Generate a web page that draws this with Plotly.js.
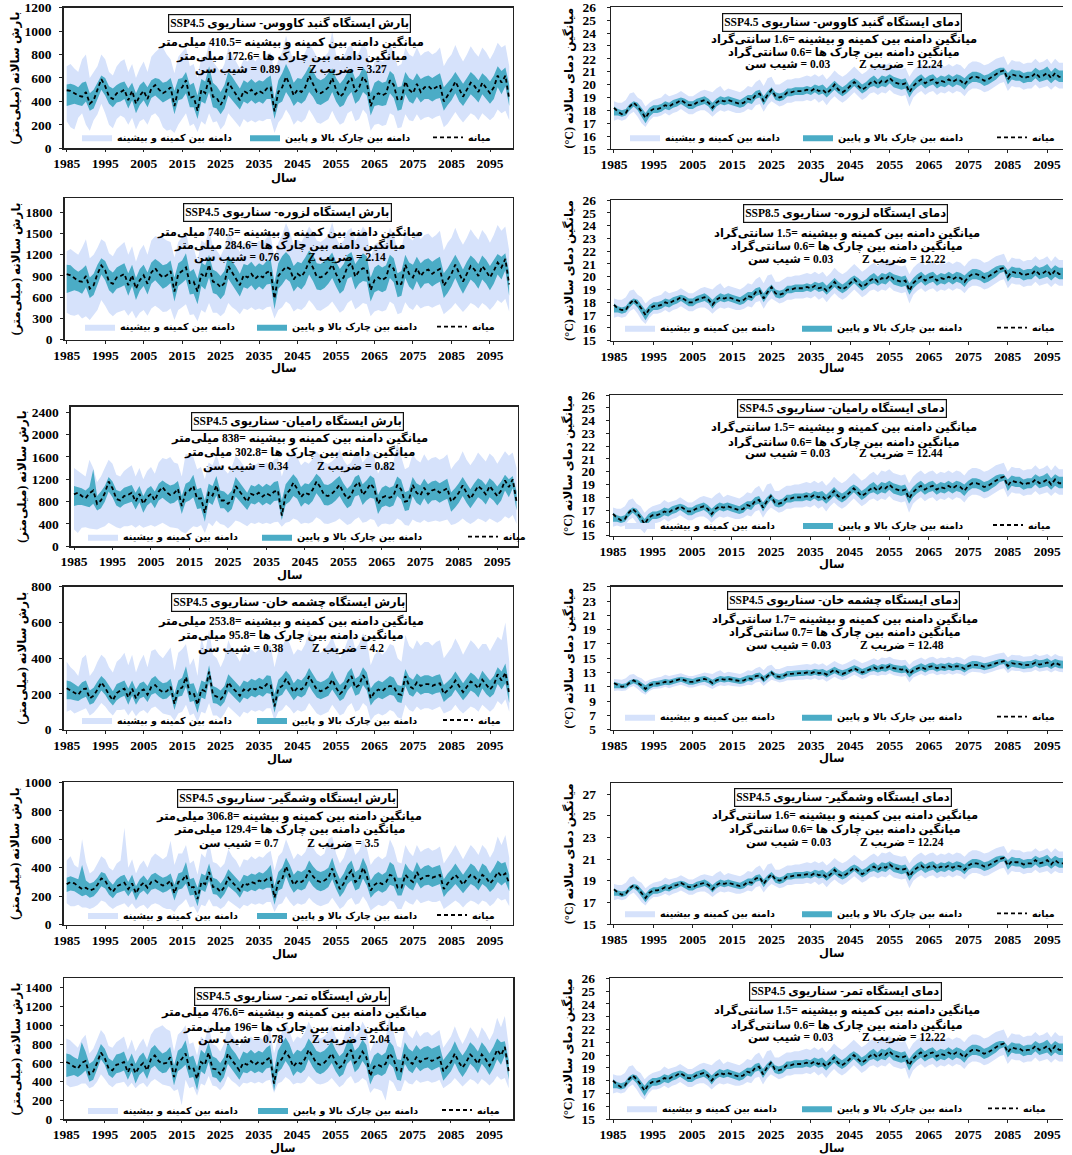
<!DOCTYPE html>
<html><head><meta charset="utf-8">
<script src="https://cdn.plot.ly/plotly-3.0.1.min.js"></script>
<style>html,body{margin:0;padding:0;background:#fff;overflow:hidden}#chart{width:1072px;height:1155px}</style>
</head><body><div id="chart"></div>
<script>
// ---------------- DATA ----------------
const years = [1985,1986,1987,1988,1989,1990,1991,1992,1993,1994,
1995,1996,1997,1998,1999,2000,2001,2002,2003,2004,
2005,2006,2007,2008,2009,2010,2011,2012,2013,2014,
2015,2016,2017,2018,2019,2020,2021,2022,2023,2024,
2025,2026,2027,2028,2029,2030,2031,2032,2033,2034,
2035,2036,2037,2038,2039,2040,2041,2042,2043,2044,
2045,2046,2047,2048,2049,2050,2051,2052,2053,2054,
2055,2056,2057,2058,2059,2060,2061,2062,2063,2064,
2065,2066,2067,2068,2069,2070,2071,2072,2073,2074,
2075,2076,2077,2078,2079,2080,2081,2082,2083,2084,
2085,2086,2087,2088,2089,2090,2091,2092,2093,2094,
2095,2096,2097,2098,2099,2100];
const tickYears = [1985,1995,2005,2015,2025,2035,2045,2055,2065,2075,2085,2095];

// Gonbad-e Kavus precipitation (mm)
const gonbadP_med = [495,490,470,450,440,480,380,410,500,590,
530,440,420,470,480,500,410,490,380,450,
490,420,510,540,500,470,490,520,360,500,
520,580,430,440,320,500,470,600,440,430,
370,430,560,510,460,410,490,470,500,460,
490,470,510,520,315,480,520,610,540,450,
500,480,520,620,550,480,470,490,520,600,
500,440,470,560,600,480,520,610,560,360,
450,470,450,470,580,540,410,420,570,500,
470,550,480,520,530,500,520,540,400,450,
500,570,500,440,500,560,530,480,560,520,
470,520,620,560,620,420];
const gonbadP_q3 = [545,550,540,520,560,570,470,500,560,620,
600,530,510,540,560,570,510,560,470,540,
570,520,580,600,590,560,570,600,490,590,
600,650,540,560,450,590,570,700,560,530,
480,540,650,610,560,510,580,560,590,560,
580,570,600,620,420,580,640,720,650,560,
600,590,640,700,660,600,580,600,640,680,
600,550,590,650,680,590,620,690,650,470,
560,580,560,570,660,630,520,530,650,600,
580,640,590,610,620,600,620,640,520,560,
600,650,600,550,600,650,620,580,640,610,
570,620,700,660,690,540];
const gonbadP_q1 = [360,370,380,370,360,400,320,340,420,500,
450,380,350,390,400,420,340,410,300,370,
410,350,430,450,420,390,410,430,290,410,
420,470,350,350,250,400,380,480,350,340,
290,340,450,410,370,330,400,380,410,380,
400,380,420,420,250,380,400,480,430,360,
400,380,410,480,440,380,370,390,410,480,
400,350,370,440,480,380,410,480,450,280,
360,370,360,370,470,430,320,330,460,400,
380,440,390,420,420,400,420,430,320,370,
410,470,400,360,410,460,430,390,460,420,
380,420,520,460,530,360];
const gonbadP_min = [230,180,160,260,300,200,150,240,290,380,
300,200,170,250,280,260,200,260,160,230,
250,200,280,300,260,180,150,160,130,200,
250,300,190,210,140,230,200,300,220,230,
160,200,300,260,220,180,250,220,240,220,
240,230,250,250,130,220,260,330,280,200,
240,220,250,330,280,220,210,230,250,320,
250,200,220,300,320,230,250,330,290,150,
200,210,190,200,300,280,170,180,290,240,
230,290,240,260,270,250,270,280,180,210,
260,310,260,220,260,300,280,240,300,270,
240,270,330,300,320,240];
const gonbadP_max = [700,720,680,650,760,800,600,650,700,800,
760,650,620,700,740,760,650,720,600,680,
740,650,780,820,850,860,800,760,640,780,
820,860,700,720,600,780,760,900,740,700,
650,720,860,800,740,680,760,740,780,740,
780,750,800,820,640,760,820,960,840,740,
780,760,820,900,840,780,760,780,820,1000,
800,740,780,860,880,780,820,900,840,640,
740,760,740,760,880,820,700,720,860,800,
780,860,790,820,830,800,820,860,700,760,
800,880,800,740,800,870,820,780,860,820,
760,820,900,860,880,700];

// Lazoreh precipitation (mm)
const lazorehP_med = [925,910,870,830,820,900,720,770,930,1050,
980,820,790,880,900,930,770,910,720,840,
910,790,950,1010,930,880,910,970,680,930,
970,1020,800,820,680,930,880,1060,820,800,
740,800,1040,950,860,770,910,880,930,860,
910,880,950,970,580,900,970,1030,1000,850,
930,890,970,1110,1020,890,880,910,970,1060,
930,820,880,1040,1080,890,970,1010,1000,700,
840,880,840,880,1060,1000,770,790,1060,930,
880,1010,900,970,990,930,970,1000,760,840,
930,1060,930,820,930,1040,990,900,1040,970,
880,970,1090,1020,1140,780];
const lazorehP_q3 = [1060,1050,1000,960,1000,1050,880,930,1060,1150,
1110,990,950,1020,1050,1080,940,1060,870,1000,
1060,950,1090,1140,1100,1050,1070,1120,880,1080,
1120,1220,960,1000,860,1090,1050,1200,990,960,
900,970,1190,1110,1030,930,1070,1050,1100,1030,
1080,1050,1110,1140,800,1080,1180,1240,1180,1040,
1100,1080,1160,1260,1200,1080,1070,1110,1160,1230,
1100,1000,1070,1200,1240,1070,1150,1220,1180,880,
1020,1060,1020,1050,1200,1150,940,970,1200,1090,
1060,1170,1080,1130,1150,1100,1140,1170,940,1010,
1100,1200,1100,990,1100,1190,1140,1070,1190,1130,
1040,1130,1210,1170,1220,950];
const lazorehP_q1 = [660,680,700,680,650,740,590,630,770,920,
840,700,650,720,740,770,620,760,560,690,
760,640,790,840,780,720,750,800,540,760,
800,850,640,650,500,760,710,880,660,640,
570,640,860,780,690,610,740,720,770,700,
750,710,780,790,430,720,780,860,820,680,
750,710,780,920,830,710,700,730,790,870,
750,650,700,860,890,710,790,830,820,540,
670,700,670,700,870,810,600,620,870,750,
700,830,720,790,800,750,790,820,590,660,
750,870,750,650,750,850,800,720,850,790,
700,790,920,850,980,620];
const lazorehP_min = [380,350,340,360,300,330,280,350,420,560,
480,380,330,380,400,420,340,410,300,380,
420,340,440,480,440,390,400,440,280,420,
460,500,350,360,260,420,380,520,380,380,
330,380,520,460,420,360,440,420,460,420,
440,420,460,470,300,420,460,540,500,400,
440,420,470,560,500,420,410,440,480,540,
460,380,420,520,560,430,470,520,500,330,
400,420,400,420,540,500,360,380,530,450,
420,500,440,470,480,450,480,500,360,400,
450,520,450,390,450,520,490,440,520,480,
420,480,560,520,580,400];
const lazorehP_max = [1250,1280,1240,1200,1300,1420,1150,1200,1300,1420,
1380,1220,1180,1280,1330,1380,1200,1320,1100,1260,
1340,1200,1400,1460,1450,1440,1400,1380,1160,1380,
1450,1520,1260,1300,1100,1400,1360,1560,1320,1260,
1180,1300,1520,1430,1340,1240,1370,1340,1400,1340,
1400,1360,1440,1480,1150,1370,1480,1650,1520,1340,
1410,1380,1480,1600,1520,1400,1380,1420,1480,1660,
1440,1340,1400,1540,1580,1400,1480,1600,1520,1160,
1340,1380,1340,1370,1580,1480,1260,1300,1540,1440,
1400,1540,1420,1480,1500,1440,1480,1540,1260,1370,
1440,1580,1440,1340,1440,1560,1480,1410,1550,1480,
1370,1480,1620,1540,1600,1260];

// Ramian precipitation (mm)
const ramianP_med = [930,960,900,860,950,1000,760,820,950,1160,
1040,850,820,900,920,960,800,940,760,880,
940,820,980,1060,970,920,950,1030,720,960,
1000,1080,850,860,600,960,910,1090,820,820,
760,830,1080,990,900,800,940,910,960,890,
950,910,980,1000,550,930,1000,1140,1030,880,
960,930,1010,1160,1060,920,900,940,1010,1100,
960,850,910,1080,1150,920,1000,1120,1040,760,
870,900,870,900,1100,1020,800,820,1100,960,
910,1050,930,1000,1020,960,1000,1040,800,870,
960,1090,960,850,960,1080,1020,930,1080,1000,
900,1000,1180,1060,1200,800];
const ramianP_q3 = [1080,1060,1040,1000,1060,1380,900,980,1080,1240,
1160,1010,980,1050,1070,1100,960,1080,900,1030,
1080,980,1120,1180,1130,1090,1110,1170,900,1120,
1160,1280,1020,1050,820,1120,1080,1260,1000,980,
920,1000,1240,1150,1060,960,1100,1070,1120,1060,
1120,1080,1150,1170,820,1110,1200,1290,1210,1060,
1130,1110,1190,1300,1230,1110,1100,1140,1200,1260,
1130,1030,1100,1240,1280,1110,1180,1270,1220,920,
1050,1090,1050,1080,1250,1190,970,1000,1240,1130,
1090,1210,1110,1160,1180,1130,1170,1210,970,1040,
1130,1240,1130,1020,1130,1220,1180,1100,1220,1160,
1070,1160,1280,1200,1260,980];
const ramianP_q1 = [720,740,740,720,700,760,640,680,800,980,
880,730,690,750,770,800,660,790,600,730,
790,680,820,870,810,760,780,840,580,790,
820,880,670,680,440,790,740,910,680,680,
600,670,890,810,730,650,770,750,800,730,
780,740,810,820,470,750,800,900,850,710,
780,740,810,950,860,740,730,760,820,900,
780,680,730,890,920,740,820,870,850,580,
700,730,700,730,900,840,630,650,900,780,
730,860,750,820,830,780,820,850,620,690,
780,900,780,680,780,880,830,750,880,820,
730,820,1000,880,1040,640];
const ramianP_min = [300,240,330,340,320,310,300,330,360,420,
380,340,320,360,360,380,330,380,330,360,
380,350,380,420,380,340,330,320,260,230,
300,360,340,380,240,420,360,460,400,380,
320,380,460,440,400,360,420,400,430,400,
420,400,430,440,350,420,440,500,470,400,
420,410,440,520,480,410,400,420,450,500,
440,380,410,480,520,420,440,490,470,340,
400,410,390,410,500,460,380,370,480,440,
420,470,430,450,460,440,460,480,380,400,
440,500,440,400,440,500,470,430,500,460,
420,460,540,500,560,400];
const ramianP_max = [1400,1350,1300,1250,1550,1400,1150,1250,1400,1550,
1480,1280,1250,1350,1400,1450,1250,1400,1200,1350,
1420,1300,1500,1580,1560,1600,1500,1480,1250,1650,
1650,1600,1380,1420,1200,1500,1450,1650,1420,1380,
1300,1420,1620,1550,1450,1350,1480,1450,1500,1450,
1500,1450,1550,1580,1250,1480,1580,1750,1600,1450,
1520,1480,1560,1700,1620,1500,1480,1520,1580,1750,
1550,1450,1500,1650,1700,1500,1580,1700,1620,1300,
1450,1500,1480,1500,1850,1600,1380,1420,1650,1550,
1500,1650,1530,1580,1600,1550,1580,1650,1380,1480,
1550,1700,1550,1450,1550,1680,1600,1520,1660,1600,
1480,1600,1700,1620,1680,1400];

// Cheshmeh Khan precipitation (mm)
const cheshmehP_med = [232,220,205,195,225,230,175,190,225,265,
235,195,165,205,220,230,180,230,175,215,
225,195,240,250,225,210,215,240,145,225,
235,295,200,205,140,225,215,325,195,185,
170,195,265,235,215,190,225,215,235,225,
240,230,255,250,130,230,245,285,250,210,
235,225,245,300,260,225,215,225,240,280,
235,200,220,270,300,235,250,305,270,175,
210,225,215,235,245,240,200,195,300,245,
230,265,245,255,255,245,255,260,200,220,
240,275,245,210,240,270,255,230,280,250,
225,250,310,275,320,200];
const cheshmehP_q3 = [275,270,255,240,265,275,220,235,270,300,
280,245,215,255,265,275,230,275,225,260,
270,245,285,300,275,260,265,285,200,275,
290,355,255,260,200,275,265,360,245,235,
220,245,310,285,265,240,275,265,285,275,
290,280,305,300,200,280,300,330,305,260,
285,275,300,345,310,275,265,275,290,330,
285,250,270,320,345,285,300,350,320,230,
260,275,265,285,300,290,250,245,340,295,
280,315,295,305,305,295,305,310,250,270,
290,325,295,260,290,320,305,280,330,300,
275,300,350,325,370,250];
const cheshmehP_q1 = [170,170,165,160,175,185,140,150,185,220,
195,160,135,165,180,190,140,190,140,175,
185,155,195,205,185,170,175,195,110,185,
190,240,155,160,95,180,170,270,150,145,
130,155,215,190,170,150,180,170,190,180,
195,185,205,200,95,185,195,230,200,165,
190,180,195,245,210,180,170,180,190,225,
190,160,175,220,245,190,200,250,220,135,
165,180,170,185,195,190,155,150,245,195,
185,215,195,205,205,195,205,210,155,175,
190,225,195,165,190,220,205,180,230,200,
180,200,255,225,260,150];
const cheshmehP_min = [100,110,90,100,110,120,80,95,120,150,
130,100,80,110,110,115,80,110,75,100,
110,90,120,130,110,90,85,80,50,90,
100,140,80,90,40,100,90,150,80,80,
60,90,130,110,90,70,100,90,110,100,
110,100,120,120,50,100,110,140,120,90,
110,100,110,150,120,90,80,90,100,140,
110,80,90,130,150,100,110,150,130,50,
80,90,80,90,110,100,70,60,140,110,
100,130,110,120,120,110,120,130,90,100,
110,140,110,90,110,130,120,100,140,120,
100,120,160,140,170,100];
const cheshmehP_max = [380,350,330,300,400,420,300,330,380,420,
400,350,320,380,400,430,360,420,320,380,
420,350,440,450,420,400,430,460,330,430,
450,480,360,400,300,520,430,560,420,400,
350,400,500,450,420,380,440,420,450,430,
450,440,470,470,350,440,460,520,480,420,
450,440,480,560,500,440,430,450,480,520,
460,400,440,500,540,450,480,540,500,360,
420,440,420,440,480,470,400,380,530,470,
450,500,470,490,490,470,490,500,400,430,
460,510,470,420,460,500,480,450,480,480,
440,480,520,500,600,380];

// Voshmgir precipitation (mm)
const voshmgirP_med = [285,300,290,270,250,260,240,250,280,325,
310,260,230,270,285,295,250,290,220,270,
295,260,300,310,290,275,285,310,220,300,
310,350,260,265,180,300,285,370,265,260,
230,265,330,300,275,240,290,280,300,290,
310,300,320,330,190,300,320,410,340,280,
310,300,320,380,340,310,300,310,330,395,
310,250,290,350,380,300,320,400,340,240,
280,300,285,300,350,340,260,260,350,320,
300,370,320,340,345,330,340,350,250,290,
320,350,320,280,320,350,335,300,350,330,
290,320,370,340,360,290];
const voshmgirP_q3 = [330,340,330,320,420,310,290,300,330,370,
360,310,280,320,340,350,300,350,270,320,
345,310,350,365,345,330,340,360,280,360,
370,440,320,330,260,360,345,430,330,320,
290,330,390,360,335,300,350,340,360,350,
370,360,385,420,270,370,400,470,420,350,
380,370,390,450,410,380,370,380,400,470,
380,320,360,420,450,370,390,470,410,310,
350,370,350,370,440,420,330,330,430,390,
370,440,390,410,420,400,410,420,320,360,
390,430,390,350,390,430,410,370,430,410,
360,400,450,430,440,350];
const voshmgirP_q1 = [230,240,235,220,200,210,190,200,230,270,
255,210,185,220,230,240,200,240,170,220,
240,210,245,255,240,225,235,255,170,245,
255,290,205,210,130,245,230,310,215,210,
180,215,270,245,225,190,240,230,245,235,
255,245,260,260,140,240,255,340,270,225,
250,240,255,310,270,245,235,245,265,320,
250,195,230,285,310,240,255,325,275,190,
220,240,225,240,280,270,205,205,280,255,
240,300,255,275,280,265,275,285,195,230,
255,285,255,220,255,285,270,240,285,265,
230,255,300,275,300,235];
const voshmgirP_min = [150,130,130,140,120,120,110,120,140,170,
160,130,110,130,140,150,120,150,110,130,
140,110,140,150,140,120,110,110,90,130,
150,180,120,130,80,140,130,180,130,130,
110,130,170,150,130,110,140,130,150,140,
150,140,160,160,90,140,150,200,160,130,
150,140,150,190,160,140,130,140,150,190,
150,110,130,170,190,140,150,200,160,100,
120,140,130,140,170,160,110,110,170,150,
140,180,150,160,170,160,160,170,110,130,
150,170,150,120,150,170,160,140,170,160,
130,150,190,170,180,130];
const voshmgirP_max = [450,480,420,400,600,440,360,380,430,480,
460,400,380,430,450,680,400,460,360,420,
450,400,470,500,480,460,480,590,420,500,
500,560,430,450,350,500,470,580,440,430,
400,430,530,480,450,400,460,450,480,460,
480,470,500,520,380,480,510,600,530,460,
500,480,510,580,540,500,480,500,600,620,
500,430,470,550,580,490,520,600,540,420,
460,480,460,480,600,540,440,430,560,510,
480,560,510,530,540,520,530,550,430,470,
510,560,510,460,510,560,530,490,560,530,
470,520,620,560,630,470];

// Tamar precipitation (mm)
const tamarP_med = [610,590,560,540,600,620,480,510,600,710,
650,540,520,580,590,610,500,590,490,560,
600,520,640,680,620,590,600,660,450,610,
640,700,540,550,430,610,580,710,540,530,
480,540,700,630,580,520,600,580,620,580,
610,590,630,660,380,600,640,720,660,560,
610,590,640,740,670,600,580,600,640,700,
610,550,580,690,740,600,640,720,660,460,
560,580,560,590,700,650,520,510,690,620,
590,660,610,640,650,620,640,660,510,560,
610,700,610,550,610,690,650,590,690,640,
570,640,740,680,770,510];
const tamarP_q3 = [700,690,660,640,820,720,590,620,700,800,
750,650,620,690,700,720,610,700,590,670,
710,630,750,790,740,700,720,770,570,730,
760,840,660,680,560,740,700,820,670,650,
600,660,820,750,700,630,720,700,740,700,
730,710,760,790,520,730,800,870,800,690,
740,720,770,860,800,730,710,730,770,830,
740,670,710,820,860,730,770,850,790,580,
680,710,680,710,830,780,640,630,820,750,
720,790,740,770,780,750,770,790,630,690,
740,830,740,680,740,820,780,720,820,770,
700,770,860,820,830,630];
const tamarP_q1 = [450,460,470,450,480,520,400,420,520,640,
580,470,440,490,500,520,420,510,380,470,
510,430,540,570,520,490,500,560,360,510,
540,580,440,450,310,510,480,610,450,440,
390,450,590,530,480,420,500,490,520,490,
510,490,540,550,300,500,540,620,560,460,
510,490,530,640,560,500,480,500,540,600,
510,450,480,590,630,500,540,620,560,370,
460,480,460,490,590,550,420,410,590,520,
490,560,510,540,550,520,540,560,410,460,
510,600,510,450,510,590,550,490,590,540,
470,540,640,580,680,420];
const tamarP_min = [370,340,350,360,380,380,330,350,400,480,
430,370,340,380,390,400,340,390,330,370,
390,340,400,430,400,370,360,350,300,320,
150,420,330,350,250,380,360,460,360,350,
310,360,460,410,380,340,390,380,400,380,
400,380,410,420,280,380,400,450,420,370,
390,380,400,460,420,380,370,380,400,440,
390,340,370,430,460,380,400,440,410,280,
330,320,300,200,420,390,300,300,420,380,
370,420,390,400,410,390,400,420,330,360,
390,440,390,350,390,430,410,370,430,400,
360,400,460,420,440,330];
const tamarP_max = [860,840,800,760,850,900,700,750,850,950,
900,780,760,820,850,880,740,850,720,800,
860,760,900,960,980,1000,960,940,720,900,
940,1000,800,820,680,880,840,1000,800,780,
720,800,980,900,840,760,860,840,880,840,
880,850,900,940,700,860,920,1040,940,820,
880,860,920,1040,960,880,860,880,920,1000,
880,800,850,980,1020,870,920,1040,960,720,
820,850,820,860,1100,940,780,760,980,900,
860,950,880,920,930,890,920,950,760,820,
880,990,880,800,880,980,930,860,980,920,
840,920,1080,980,1100,780];

// Gonbad-e Kavus temperature (°C)
const gonbadT_med = [18.2,17.9,17.7,17.8,18.3,18.6,18.3,17.9,17.4,17.9,
18.1,18.1,18.2,18.4,18.3,18.5,18.6,18.8,18.6,18.4,
18.4,18.6,18.7,18.8,18.6,18.2,18.6,18.8,18.7,18.8,
18.7,18.6,18.5,18.6,18.9,18.8,19.2,19.3,18.7,19.2,
19.6,19.1,19.0,19.1,19.4,19.4,19.5,19.5,19.5,19.6,
19.5,19.7,19.5,19.6,19.3,19.6,20.0,19.6,19.4,19.6,
19.9,20.2,19.9,19.6,19.8,20.1,20.3,20.0,20.3,20.2,
20.5,20.2,20.1,20.0,20.1,19.4,19.9,20.2,20.4,20.1,
20.3,20.4,20.1,20.3,20.2,20.4,20.2,20.4,20.3,20.0,
20.4,20.6,20.6,20.5,20.3,20.4,20.6,20.8,21.0,21.1,
20.4,20.8,20.7,20.7,20.5,20.6,20.6,20.9,20.6,20.7,
20.9,20.5,20.9,20.6,20.6,20.5];
const gonbadT_q3 = [18.3,18.1,18.0,18.1,18.5,18.7,18.6,18.2,17.8,18.2,
18.4,18.4,18.5,18.7,18.6,18.8,18.9,19.0,18.9,18.7,
18.7,18.9,19.0,19.1,18.9,18.6,18.9,19.1,19.0,19.1,
19.0,18.9,18.8,19.0,19.2,19.2,19.5,19.6,19.1,19.5,
19.8,19.4,19.3,19.4,19.7,19.7,19.8,19.8,19.8,19.9,
19.8,20.0,19.9,20.0,19.7,20.0,20.3,20.0,19.8,20.0,
20.3,20.5,20.3,20.0,20.2,20.5,20.7,20.4,20.7,20.6,
20.8,20.6,20.5,20.4,20.5,19.9,20.3,20.6,20.8,20.5,
20.7,20.8,20.5,20.7,20.6,20.8,20.6,20.8,20.7,20.5,
20.8,21.0,21.0,20.9,20.7,20.8,21.0,21.2,21.3,21.3,
20.9,21.2,21.1,21.1,20.9,21.0,21.0,21.3,21.1,21.2,
21.4,21.0,21.3,21.1,21.1,21.0];
const gonbadT_q1 = [17.6,17.6,17.5,17.6,18.0,18.3,18.0,17.5,17.0,17.5,
17.8,17.8,17.9,18.1,18.0,18.2,18.3,18.5,18.3,18.1,
18.1,18.3,18.4,18.5,18.3,17.9,18.3,18.5,18.4,18.5,
18.4,18.3,18.2,18.3,18.6,18.5,18.9,19.0,18.4,18.9,
19.3,18.8,18.7,18.8,19.1,19.1,19.2,19.2,19.2,19.3,
19.2,19.4,19.2,19.3,19.0,19.3,19.6,19.3,19.1,19.3,
19.6,19.9,19.6,19.3,19.5,19.8,19.9,19.7,19.9,19.8,
20.1,19.8,19.7,19.6,19.7,19.0,19.5,19.8,20.0,19.7,
19.9,20.0,19.7,19.9,19.8,20.0,19.8,20.0,19.9,19.6,
20.0,20.2,20.2,20.1,19.9,20.0,20.2,20.4,20.7,20.8,
20.0,20.4,20.3,20.3,20.1,20.2,20.2,20.5,20.2,20.3,
20.4,20.1,20.4,20.2,20.2,20.1];
const gonbadT_min = [17.2,17.3,17.2,17.3,17.7,17.9,17.5,17.0,16.7,17.2,
17.5,17.5,17.6,17.8,17.6,17.8,17.9,18.1,17.9,17.7,
17.7,17.9,18.0,18.0,17.8,17.5,17.8,18.0,17.9,18.0,
17.9,17.8,17.8,17.9,18.1,18.0,18.4,18.5,17.9,18.4,
18.7,18.5,18.3,18.4,18.6,18.6,18.7,18.7,18.7,18.8,
18.7,18.9,18.6,18.8,18.4,18.8,19.1,18.8,18.6,18.8,
19.1,19.4,19.1,18.8,19.0,19.3,19.4,19.2,19.4,19.3,
19.6,19.3,19.2,19.1,19.2,18.3,19.0,19.3,19.5,19.2,
19.4,19.5,19.2,19.4,19.3,19.5,19.3,19.5,19.4,19.1,
19.5,19.7,19.7,19.6,19.4,19.5,19.7,19.9,20.1,20.2,
19.5,19.9,19.8,19.8,19.6,19.7,19.7,20.0,19.7,19.8,
19.9,19.6,19.9,19.7,19.7,19.6];
const gonbadT_max = [18.7,18.6,18.6,18.8,19.3,19.4,19.0,18.8,18.3,18.6,
18.8,18.9,19.0,19.3,19.1,19.2,19.3,19.5,19.3,19.1,
19.1,19.3,19.5,19.6,19.5,19.4,19.7,19.9,19.5,19.7,
19.6,19.5,19.4,19.6,19.9,19.8,20.2,20.4,19.9,20.5,
20.6,20.0,20.0,20.2,20.4,20.4,20.5,20.5,20.6,20.7,
20.6,20.8,20.6,20.8,20.4,20.7,21.1,20.8,20.6,20.8,
21.1,21.4,21.1,20.8,21.0,21.3,21.5,21.2,21.6,21.5,
21.7,21.4,21.3,21.2,21.3,20.6,21.1,21.4,21.6,21.3,
21.5,21.6,21.3,21.5,21.4,21.6,21.4,21.6,21.5,21.2,
21.6,21.8,21.8,21.7,21.5,21.6,21.8,22.0,22.1,22.2,
21.5,21.9,21.8,21.8,21.6,21.7,21.7,22.0,21.7,21.8,
22.0,21.6,22.0,21.7,21.7,21.6];

// Lazoreh temperature (°C)
const lazorehT_med = [17.8,17.5,17.4,17.4,17.9,18.2,17.9,17.5,17.0,17.5,
17.7,17.7,17.8,18.0,17.9,18.1,18.2,18.4,18.2,18.0,
18.0,18.2,18.3,18.4,18.2,17.8,18.2,18.4,18.3,18.4,
18.3,18.2,18.1,18.2,18.5,18.4,18.8,18.9,18.3,18.8,
19.2,18.7,18.6,18.7,19.0,19.0,19.1,19.1,19.1,19.2,
19.1,19.3,19.1,19.2,18.9,19.2,19.6,19.2,19.0,19.2,
19.5,19.8,19.5,19.2,19.4,19.7,19.9,19.6,19.9,19.8,
20.1,19.8,19.7,19.6,19.7,18.9,19.5,19.8,20.0,19.7,
19.9,20.0,19.7,19.9,19.8,20.0,19.8,20.0,19.9,19.6,
20.0,20.2,20.2,20.1,19.9,20.0,20.2,20.4,20.6,20.7,
20.0,20.4,20.3,20.3,20.1,20.2,20.2,20.5,20.2,20.3,
20.5,20.1,20.5,20.2,20.2,20.1];
const lazorehT_q3 = [17.9,17.7,17.6,17.7,18.1,18.3,18.2,17.8,17.4,17.8,
18.0,18.0,18.1,18.3,18.2,18.4,18.5,18.6,18.5,18.3,
18.3,18.5,18.6,18.7,18.5,18.2,18.5,18.7,18.6,18.7,
18.6,18.5,18.4,18.6,18.8,18.8,19.1,19.2,18.7,19.1,
19.4,19.0,18.9,19.0,19.3,19.3,19.4,19.4,19.4,19.5,
19.4,19.6,19.5,19.6,19.3,19.6,19.9,19.6,19.4,19.6,
19.9,20.1,19.9,19.6,19.8,20.1,20.3,20.0,20.3,20.2,
20.4,20.2,20.1,20.0,20.1,19.5,19.9,20.2,20.4,20.1,
20.3,20.4,20.1,20.3,20.2,20.4,20.2,20.4,20.3,20.1,
20.4,20.6,20.6,20.5,20.3,20.4,20.6,20.8,20.9,20.9,
20.5,20.8,20.7,20.7,20.5,20.6,20.6,20.9,20.7,20.8,
21.0,20.6,20.9,20.7,20.7,20.6];
const lazorehT_q1 = [17.2,17.2,17.1,17.2,17.6,17.9,17.6,17.1,16.6,17.1,
17.4,17.4,17.5,17.7,17.6,17.8,17.9,18.1,17.9,17.7,
17.7,17.9,18.0,18.1,17.9,17.5,17.9,18.1,18.0,18.1,
18.0,17.9,17.8,17.9,18.2,18.1,18.5,18.6,18.0,18.5,
18.9,18.4,18.3,18.4,18.7,18.7,18.8,18.8,18.8,18.9,
18.8,19.0,18.8,18.9,18.6,18.9,19.2,18.9,18.7,18.9,
19.2,19.5,19.2,18.9,19.1,19.4,19.5,19.3,19.5,19.4,
19.7,19.4,19.3,19.2,19.3,18.6,19.1,19.4,19.6,19.3,
19.5,19.6,19.3,19.5,19.4,19.6,19.4,19.6,19.5,19.2,
19.6,19.8,19.8,19.7,19.5,19.6,19.8,20.0,20.3,20.4,
19.6,20.0,19.9,19.9,19.7,19.8,19.8,20.1,19.8,19.9,
20.0,19.7,20.0,19.8,19.8,19.7];
const lazorehT_min = [16.8,16.9,16.8,16.9,17.3,17.5,17.1,16.6,16.3,16.8,
17.1,17.1,17.2,17.4,17.2,17.4,17.5,17.7,17.5,17.3,
17.3,17.5,17.6,17.6,17.4,17.1,17.4,17.6,17.5,17.6,
17.5,17.4,17.4,17.5,17.7,17.6,18.0,18.1,17.5,18.0,
18.3,18.1,17.9,18.0,18.2,18.2,18.3,18.3,18.3,18.4,
18.3,18.5,18.2,18.4,18.0,18.4,18.7,18.4,18.2,18.4,
18.7,19.0,18.7,18.4,18.6,18.9,19.0,18.8,19.0,18.9,
19.2,18.9,18.8,18.7,18.8,17.9,18.6,18.9,19.1,18.8,
19.0,19.1,18.8,19.0,18.9,19.1,18.9,19.1,19.0,18.7,
19.1,19.3,19.3,19.2,19.0,19.1,19.3,19.5,19.7,19.8,
19.1,19.5,19.4,19.4,19.2,19.3,19.3,19.6,19.3,19.4,
19.5,19.2,19.5,19.3,19.3,19.2];
const lazorehT_max = [18.3,18.2,18.2,18.4,18.9,19.0,18.6,18.4,17.9,18.2,
18.4,18.5,18.6,18.9,18.7,18.8,18.9,19.1,18.9,18.7,
18.7,18.9,19.1,19.2,19.1,19.0,19.3,19.5,19.1,19.3,
19.2,19.1,19.0,19.2,19.5,19.4,19.8,20.0,19.5,20.1,
20.2,19.6,19.6,19.8,20.0,20.0,20.1,20.1,20.2,20.3,
20.2,20.4,20.2,20.4,20.0,20.3,20.7,20.4,20.2,20.4,
20.7,21.0,20.7,20.4,20.6,20.9,21.1,20.8,21.2,21.1,
21.3,21.0,20.9,20.8,20.9,20.2,20.7,21.0,21.2,20.9,
21.1,21.2,20.9,21.1,21.0,21.2,21.0,21.2,21.1,20.8,
21.2,21.4,21.4,21.3,21.1,21.2,21.4,21.6,21.7,21.8,
21.1,21.5,21.4,21.4,21.2,21.3,21.3,21.6,21.3,21.4,
21.6,21.2,21.6,21.3,21.3,21.2];

// Ramian temperature (°C)
const ramianT_med = [16.7,16.4,16.2,16.3,16.8,17.1,16.8,16.4,15.9,16.4,
16.6,16.6,16.7,16.9,16.8,17.0,17.1,17.3,17.1,16.9,
16.9,17.1,17.2,17.3,17.1,16.7,17.1,17.3,17.2,17.3,
17.2,17.1,17.0,17.1,17.4,17.3,17.7,17.8,17.2,17.7,
18.1,17.6,17.5,17.6,17.9,17.9,18.0,18.0,18.0,18.1,
18.0,18.2,18.0,18.1,17.8,18.1,18.5,18.1,17.9,18.1,
18.4,18.7,18.4,18.1,18.3,18.6,18.8,18.5,18.8,18.7,
19.0,18.7,18.6,18.5,18.6,17.9,18.4,18.7,18.9,18.6,
18.8,18.9,18.6,18.8,18.7,18.9,18.7,18.9,18.8,18.5,
18.9,19.1,19.1,19.0,18.8,18.9,19.1,19.3,19.5,19.6,
18.9,19.3,19.2,19.2,19.0,19.1,19.1,19.4,19.1,19.2,
19.4,19.0,19.4,19.1,19.1,19.0];
const ramianT_q3 = [16.8,16.6,16.5,16.6,17.0,17.2,17.1,16.7,16.3,16.7,
16.9,16.9,17.0,17.2,17.1,17.3,17.4,17.5,17.4,17.2,
17.2,17.4,17.5,17.6,17.4,17.1,17.4,17.6,17.5,17.6,
17.5,17.4,17.3,17.5,17.7,17.7,18.0,18.1,17.6,18.0,
18.3,17.9,17.8,17.9,18.2,18.2,18.3,18.3,18.3,18.4,
18.3,18.5,18.4,18.5,18.2,18.5,18.8,18.5,18.3,18.5,
18.8,19.0,18.8,18.5,18.7,19.0,19.2,18.9,19.2,19.1,
19.3,19.1,19.0,18.9,19.0,18.4,18.8,19.1,19.3,19.0,
19.2,19.3,19.0,19.2,19.1,19.3,19.1,19.3,19.2,19.0,
19.3,19.5,19.5,19.4,19.2,19.3,19.5,19.7,19.8,19.8,
19.4,19.7,19.6,19.6,19.4,19.5,19.5,19.8,19.6,19.7,
19.9,19.5,19.8,19.6,19.6,19.5];
const ramianT_q1 = [16.1,16.1,16.0,16.1,16.5,16.8,16.5,16.0,15.5,16.0,
16.3,16.3,16.4,16.6,16.5,16.7,16.8,17.0,16.8,16.6,
16.6,16.8,16.9,17.0,16.8,16.4,16.8,17.0,16.9,17.0,
16.9,16.8,16.7,16.8,17.1,17.0,17.4,17.5,16.9,17.4,
17.8,17.3,17.2,17.3,17.6,17.6,17.7,17.7,17.7,17.8,
17.7,17.9,17.7,17.8,17.5,17.8,18.1,17.8,17.6,17.8,
18.1,18.4,18.1,17.8,18.0,18.3,18.4,18.2,18.4,18.3,
18.6,18.3,18.2,18.1,18.2,17.5,18.0,18.3,18.5,18.2,
18.4,18.5,18.2,18.4,18.3,18.5,18.3,18.5,18.4,18.1,
18.5,18.7,18.7,18.6,18.4,18.5,18.7,18.9,19.2,19.3,
18.5,18.9,18.8,18.8,18.6,18.7,18.7,19.0,18.7,18.8,
18.9,18.6,18.9,18.7,18.7,18.6];
const ramianT_min = [15.7,15.8,15.7,15.8,16.2,16.4,16.0,15.5,15.2,15.7,
16.0,16.0,16.1,16.3,16.1,16.3,16.4,16.6,16.4,16.2,
16.2,16.4,16.5,16.5,16.3,16.0,16.3,16.5,16.4,16.5,
16.4,16.3,16.3,16.4,16.6,16.5,16.9,17.0,16.4,16.9,
17.2,17.0,16.8,16.9,17.1,17.1,17.2,17.2,17.2,17.3,
17.2,17.4,17.1,17.3,16.9,17.3,17.6,17.3,17.1,17.3,
17.6,17.9,17.6,17.3,17.5,17.8,17.9,17.7,17.9,17.8,
18.1,17.8,17.7,17.6,17.7,16.8,17.5,17.8,18.0,17.7,
17.9,18.0,17.7,17.9,17.8,18.0,17.8,18.0,17.9,17.6,
18.0,18.2,18.2,18.1,17.9,18.0,18.2,18.4,18.6,18.7,
18.0,18.4,18.3,18.3,18.1,18.2,18.2,18.5,18.2,18.3,
18.4,18.1,18.4,18.2,18.2,18.1];
const ramianT_max = [17.2,17.1,17.1,17.3,17.8,17.9,17.5,17.3,16.8,17.1,
17.3,17.4,17.5,17.8,17.6,17.7,17.8,18.0,17.8,17.6,
17.6,17.8,18.0,18.1,18.0,17.9,18.2,18.4,18.0,18.2,
18.1,18.0,17.9,18.1,18.4,18.3,18.7,18.9,18.4,19.0,
19.1,18.5,18.5,18.7,18.9,18.9,19.0,19.0,19.1,19.2,
19.1,19.3,19.1,19.3,18.9,19.2,19.6,19.3,19.1,19.3,
19.6,19.9,19.6,19.3,19.5,19.8,20.0,19.7,20.1,20.0,
20.2,19.9,19.8,19.7,19.8,19.1,19.6,19.9,20.1,19.8,
20.0,20.1,19.8,20.0,19.9,20.1,19.9,20.1,20.0,19.7,
20.1,20.3,20.3,20.2,20.0,20.1,20.3,20.5,20.6,20.7,
20.0,20.4,20.3,20.3,20.1,20.2,20.2,20.5,20.2,20.3,
20.5,20.1,20.5,20.2,20.2,20.1];

// Cheshmeh Khan temperature (°C)
const cheshmehT_med = [11.5,11.2,11.0,11.1,11.6,11.9,11.6,11.2,10.7,11.2,
11.4,11.4,11.5,11.7,11.6,11.8,11.9,12.1,11.9,11.7,
11.7,11.9,12.0,12.1,11.9,11.5,11.9,12.1,12.0,12.1,
12.0,11.9,11.8,11.9,12.2,12.1,12.5,12.6,12.0,12.5,
13.0,12.5,12.4,12.5,12.8,12.8,12.9,12.9,12.9,13.0,
12.9,13.1,12.9,13.0,12.7,13.0,13.4,13.0,12.8,13.0,
13.3,13.6,13.3,13.0,13.2,13.5,13.7,13.4,13.7,13.6,
13.9,13.6,13.5,13.4,13.5,12.8,13.3,13.6,13.8,13.5,
13.8,13.9,13.6,13.8,13.7,13.9,13.7,13.9,13.8,13.5,
13.9,14.1,14.1,14.0,13.8,13.9,14.1,14.3,14.5,14.6,
13.9,14.3,14.2,14.2,14.0,14.1,14.1,14.4,14.1,14.2,
14.4,14.0,14.4,14.1,14.1,14.0];
const cheshmehT_q3 = [11.7,11.5,11.4,11.5,11.9,12.1,12.0,11.6,11.2,11.6,
11.8,11.8,11.9,12.1,12.0,12.2,12.3,12.4,12.3,12.1,
12.1,12.3,12.4,12.5,12.3,12.0,12.3,12.5,12.4,12.5,
12.4,12.3,12.2,12.4,12.6,12.6,12.9,13.0,12.5,12.9,
13.3,12.9,12.8,12.9,13.2,13.2,13.3,13.3,13.3,13.4,
13.3,13.5,13.4,13.5,13.2,13.5,13.8,13.5,13.3,13.5,
13.8,14.0,13.8,13.5,13.7,14.0,14.2,13.9,14.2,14.1,
14.3,14.1,14.0,13.9,14.0,13.4,13.8,14.1,14.3,14.0,
14.3,14.4,14.1,14.3,14.2,14.4,14.2,14.4,14.3,14.1,
14.4,14.6,14.6,14.5,14.3,14.4,14.6,14.8,14.9,14.9,
14.5,14.8,14.7,14.7,14.5,14.6,14.6,14.9,14.7,14.8,
15.0,14.6,14.9,14.7,14.7,14.6];
const cheshmehT_q1 = [10.8,10.8,10.7,10.8,11.2,11.5,11.2,10.7,10.2,10.7,
11.0,11.0,11.1,11.3,11.2,11.4,11.5,11.7,11.5,11.3,
11.3,11.5,11.6,11.7,11.5,11.1,11.5,11.7,11.6,11.7,
11.6,11.5,11.4,11.5,11.8,11.7,12.1,12.2,11.6,12.1,
12.6,12.1,12.0,12.1,12.4,12.4,12.5,12.5,12.5,12.6,
12.5,12.7,12.5,12.6,12.3,12.6,12.9,12.6,12.4,12.6,
12.9,13.2,12.9,12.6,12.8,13.1,13.2,13.0,13.2,13.1,
13.4,13.1,13.0,12.9,13.0,12.3,12.8,13.1,13.3,13.0,
13.3,13.4,13.1,13.3,13.2,13.4,13.2,13.4,13.3,13.0,
13.4,13.6,13.6,13.5,13.3,13.4,13.6,13.8,14.1,14.2,
13.4,13.8,13.7,13.7,13.5,13.6,13.6,13.9,13.6,13.7,
13.8,13.5,13.8,13.6,13.6,13.5];
const cheshmehT_min = [10.4,10.5,10.4,10.5,10.9,11.1,10.7,10.2,9.9,10.4,
10.7,10.7,10.8,11.0,10.8,11.0,11.1,11.3,11.1,10.9,
10.9,11.1,11.2,11.2,11.0,10.7,11.0,11.2,11.1,11.2,
11.1,11.0,11.0,11.1,11.3,11.2,11.6,11.7,11.1,11.6,
12.0,11.8,11.6,11.7,11.9,11.9,12.0,12.0,12.0,12.1,
12.0,12.2,11.9,12.1,11.7,12.1,12.4,12.1,11.9,12.1,
12.4,12.7,12.4,12.1,12.3,12.6,12.7,12.5,12.7,12.6,
12.9,12.6,12.5,12.4,12.5,11.6,12.3,12.6,12.8,12.5,
12.8,12.9,12.6,12.8,12.7,12.9,12.7,12.9,12.8,12.5,
12.9,13.1,13.1,13.0,12.8,12.9,13.1,13.3,13.5,13.6,
12.9,13.3,13.2,13.2,13.0,13.1,13.1,13.4,13.1,13.2,
13.3,13.0,13.3,13.1,13.1,13.0];
const cheshmehT_max = [12.1,12.0,12.0,12.2,12.7,12.8,12.4,12.2,11.7,12.0,
12.2,12.3,12.4,12.7,12.5,12.6,12.7,12.9,12.7,12.5,
12.5,12.7,12.9,13.0,12.9,12.8,13.1,13.3,12.9,13.1,
13.0,12.9,12.8,13.0,13.3,13.2,13.6,13.8,13.3,13.9,
14.1,13.5,13.5,13.7,13.9,13.9,14.0,14.0,14.1,14.2,
14.1,14.3,14.1,14.3,13.9,14.2,14.6,14.3,14.1,14.3,
14.6,14.9,14.6,14.3,14.5,14.8,15.0,14.7,15.1,15.0,
15.2,14.9,14.8,14.7,14.8,14.1,14.6,14.9,15.1,14.8,
15.1,15.2,14.9,15.1,15.0,15.2,15.0,15.2,15.1,14.8,
15.2,15.4,15.4,15.3,15.1,15.2,15.4,15.6,15.7,15.8,
15.1,15.5,15.4,15.4,15.2,15.3,15.3,15.6,15.3,15.4,
15.6,15.2,15.6,15.3,15.3,15.2];

// Voshmgir temperature (°C): read as the same curves as Gonbad-e Kavus
const voshmgirT_med = gonbadT_med, voshmgirT_q3 = gonbadT_q3, voshmgirT_q1 = gonbadT_q1,
      voshmgirT_min = gonbadT_min, voshmgirT_max = gonbadT_max;

// Tamar temperature (°C)
const tamarT_med = [18.0,17.7,17.5,17.6,18.1,18.4,18.1,17.7,17.2,17.7,
17.9,17.9,18.0,18.2,18.1,18.3,18.4,18.6,18.4,18.2,
18.2,18.4,18.5,18.6,18.4,18.0,18.4,18.6,18.5,18.6,
18.5,18.4,18.3,18.4,18.7,18.6,19.0,19.1,18.5,19.0,
19.4,18.9,18.8,18.9,19.2,19.2,19.3,19.3,19.3,19.4,
19.3,19.5,19.3,19.4,19.1,19.4,19.8,19.4,19.2,19.4,
19.7,20.0,19.7,19.4,19.6,19.9,20.1,19.8,20.1,20.0,
20.3,20.0,19.9,19.8,19.9,19.2,19.7,20.0,20.2,19.9,
20.1,20.2,19.9,20.1,20.0,20.2,20.0,20.2,20.1,19.8,
20.2,20.4,20.4,20.3,20.1,20.2,20.4,20.6,20.8,20.9,
20.2,20.6,20.5,20.5,20.3,20.4,20.4,20.7,20.4,20.5,
20.7,20.3,20.7,20.4,20.4,20.3];
const tamarT_q3 = [18.1,17.9,17.8,17.9,18.3,18.5,18.4,18.0,17.6,18.0,
18.2,18.2,18.3,18.5,18.4,18.6,18.7,18.8,18.7,18.5,
18.5,18.7,18.8,18.9,18.7,18.4,18.7,18.9,18.8,18.9,
18.8,18.7,18.6,18.8,19.0,19.0,19.3,19.4,18.9,19.3,
19.6,19.2,19.1,19.2,19.5,19.5,19.6,19.6,19.6,19.7,
19.6,19.8,19.7,19.8,19.5,19.8,20.1,19.8,19.6,19.8,
20.1,20.3,20.1,19.8,20.0,20.3,20.5,20.2,20.5,20.4,
20.6,20.4,20.3,20.2,20.3,19.7,20.1,20.4,20.6,20.3,
20.5,20.6,20.3,20.5,20.4,20.6,20.4,20.6,20.5,20.3,
20.6,20.8,20.8,20.7,20.5,20.6,20.8,21.0,21.1,21.1,
20.7,21.0,20.9,20.9,20.7,20.8,20.8,21.1,20.9,21.0,
21.2,20.8,21.1,20.9,20.9,20.8];
const tamarT_q1 = [17.4,17.4,17.3,17.4,17.8,18.1,17.8,17.3,16.8,17.3,
17.6,17.6,17.7,17.9,17.8,18.0,18.1,18.3,18.1,17.9,
17.9,18.1,18.2,18.3,18.1,17.7,18.1,18.3,18.2,18.3,
18.2,18.1,18.0,18.1,18.4,18.3,18.7,18.8,18.2,18.7,
19.1,18.6,18.5,18.6,18.9,18.9,19.0,19.0,19.0,19.1,
19.0,19.2,19.0,19.1,18.8,19.1,19.4,19.1,18.9,19.1,
19.4,19.7,19.4,19.1,19.3,19.6,19.7,19.5,19.7,19.6,
19.9,19.6,19.5,19.4,19.5,18.8,19.3,19.6,19.8,19.5,
19.7,19.8,19.5,19.7,19.6,19.8,19.6,19.8,19.7,19.4,
19.8,20.0,20.0,19.9,19.7,19.8,20.0,20.2,20.5,20.6,
19.8,20.2,20.1,20.1,19.9,20.0,20.0,20.3,20.0,20.1,
20.2,19.9,20.2,20.0,20.0,19.9];
const tamarT_min = [17.0,17.1,17.0,17.1,17.5,17.7,17.3,16.8,16.5,17.0,
17.3,17.3,17.4,17.6,17.4,17.6,17.7,17.9,17.7,17.5,
17.5,17.7,17.8,17.8,17.6,17.3,17.6,17.8,17.7,17.8,
17.7,17.6,17.6,17.7,17.9,17.8,18.2,18.3,17.7,18.2,
18.5,18.3,18.1,18.2,18.4,18.4,18.5,18.5,18.5,18.6,
18.5,18.7,18.4,18.6,18.2,18.6,18.9,18.6,18.4,18.6,
18.9,19.2,18.9,18.6,18.8,19.1,19.2,19.0,19.2,19.1,
19.4,19.1,19.0,18.9,19.0,18.1,18.8,19.1,19.3,19.0,
19.2,19.3,19.0,19.2,19.1,19.3,19.1,19.3,19.2,18.9,
19.3,19.5,19.5,19.4,19.2,19.3,19.5,19.7,19.9,20.0,
19.3,19.7,19.6,19.6,19.4,19.5,19.5,19.8,19.5,19.6,
19.7,19.4,19.7,19.5,19.5,19.4];
const tamarT_max = [18.5,18.4,18.4,18.6,19.1,19.2,18.8,18.6,18.1,18.4,
18.6,18.7,18.8,19.1,18.9,19.0,19.1,19.3,19.1,18.9,
18.9,19.1,19.3,19.4,19.3,19.2,19.5,19.7,19.3,19.5,
19.4,19.3,19.2,19.4,19.7,19.6,20.0,20.2,19.7,20.3,
20.4,19.8,19.8,20.0,20.2,20.2,20.3,20.3,20.4,20.5,
20.4,20.6,20.4,20.6,20.2,20.5,20.9,20.6,20.4,20.6,
20.9,21.2,20.9,20.6,20.8,21.1,21.3,21.0,21.4,21.3,
21.5,21.2,21.1,21.0,21.1,20.4,20.9,21.2,21.4,21.1,
21.3,21.4,21.1,21.3,21.2,21.4,21.2,21.4,21.3,21.0,
21.4,21.6,21.6,21.5,21.3,21.4,21.6,21.8,21.9,22.0,
21.3,21.7,21.6,21.6,21.4,21.5,21.5,21.8,21.5,21.6,
21.8,21.4,21.8,21.5,21.5,21.4];

// Statistics printed on each panel: [mean min-max range, mean IQR, Z, Sen's slope]
const statsGonbadP = ['410.5','172.6','3.27','0.89'];
const statsLazorehP = ['740.5','284.6','2.14','0.76'];
const statsRamianP = ['838','302.8','0.82','0.34'];
const statsCheshmehP = ['253.8','95.8','4.2','0.38'];
const statsVoshmgirP = ['306.8','129.4','3.5','0.7'];
const statsTamarP = ['476.6','196','2.04','0.78'];
const statsGonbadT = ['1.6','0.6','12.24','0.03'];
const statsLazorehT = ['1.5','0.6','12.22','0.03'];
const statsRamianT = ['1.5','0.6','12.44','0.03'];
const statsCheshmehT = ['1.7','0.7','12.48','0.03'];
const statsVoshmgirT = ['1.6','0.6','12.24','0.03'];
const statsTamarT = ['1.5','0.6','12.22','0.03'];

// ---------------- TEXT ----------------
const LRM = '\u200E', RLM = '\u200F', NB = '\u00A0';
const NAME_RANGE = 'دامنه بین کمینه و بیشینه';
const NAME_IQR = 'دامنه بین چارک بالا و پایین';
const NAME_MED = 'میانه';
const PH1 = 'میانگین دامنه بین کمینه و بیشینه';
const PH2 = 'میانگین دامنه بین چارک ها';
const SEN = 'شیب سن';
const ZC = 'ضریب';
const UNIT_P = 'میلی\u200cمتر';
const UNIT_T = 'سانتی\u200cگراد';
const YT_P = 'بارش سالانه (میلی\u200cمتر)' + RLM;
const YT_T = '(°C) میانگین دمای سالانه';
const XT = 'سال';

// ---------------- LAYOUT / STYLE ----------------
const W = 1072, H = 1155;
const LIGHT = 'rgb(214,226,251)';
const DARK = 'rgb(75,172,198)';
const AR = '"DejaVu Sans", sans-serif';
const MIX = '"Liberation Serif", "DejaVu Sans", serif';
const NUMF = '"Liberation Serif", serif';

const XL = [1984.17, 2100.9], XR = [1984.24, 2099.0];
const panels = [
 {st:'گنبد کاووس', k:'P', ssp:'SSP4.5', d:[gonbadP_min,gonbadP_q1,gonbadP_med,gonbadP_q3,gonbadP_max], s:statsGonbadP,
  xd:[63.5,512.7], xr:XL, yd:[7.6,148.3], yr:[0,1200], dt:200, t0:0, cx:289, ty:23.5, ly:[42.7,55.7,69.3], lg:[77,137.3,123,138], xt:[284,178]},
 {st:'لزوره', k:'P', ssp:'SSP4.5', d:[lazorehP_min,lazorehP_q1,lazorehP_med,lazorehP_q3,lazorehP_max], s:statsLazorehP,
  xd:[64.5,513], xr:[1984.43,2101.0], yd:[198.1,339.7], yr:[0,2000], dt:300, t0:0, cx:287.5, ty:212.2, ly:[232.3,245,257.7], lg:[80,326.7,127,135], xt:[284,368]},
 {st:'رامیان', k:'P', ssp:'SSP4.5', d:[ramianP_min,ramianP_q1,ramianP_med,ramianP_q3,ramianP_max], s:statsRamianP,
  xd:[70.7,517.7], xr:[1984.14,2100.3], yd:[406.7,546.3], yr:[0,2500], dt:400, t0:0, cx:297, ty:421.2, ly:[438.7,451.7,466], lg:[83,536.7,129,161], xt:[290,575]},
 {st:'چشمه خان', k:'P', ssp:'SSP4.5', d:[cheshmehP_min,cheshmehP_q1,cheshmehP_med,cheshmehP_q3,cheshmehP_max], s:statsCheshmehP,
  xd:[63.5,512.7], xr:XL, yd:[586.7,729.7], yr:[0,800], dt:200, t0:0, cx:289, ty:602.5, ly:[621.7,635,648.3], lg:[77,720,130,141], xt:[280,759]},
 {st:'وشمگیر', k:'P', ssp:'SSP4.5', d:[voshmgirP_min,voshmgirP_q1,voshmgirP_med,voshmgirP_q3,voshmgirP_max], s:statsVoshmgirP,
  xd:[63.5,512.7], xr:XL, yd:[782.3,924.7], yr:[0,1000], dt:200, t0:0, cx:287, ty:798.2, ly:[816.3,829.3,844], lg:[83,915,124,135], xt:[285,954]},
 {st:'تمر', k:'P', ssp:'SSP4.5', d:[tamarP_min,tamarP_q1,tamarP_med,tamarP_q3,tamarP_max], s:statsTamarP,
  xd:[64.3,513.3], xr:[1984.48,2101.2], yd:[978.3,1119.3], yr:[0,1500], dt:200, t0:0, cx:292, ty:996.2, ly:[1012.7,1026.7,1039.7], lg:[83,1110,125,139], xt:[283,1148]},
 {st:'گنبد کاووس', k:'T', ssp:'SSP4.5', d:[gonbadT_min,gonbadT_q1,gonbadT_med,gonbadT_q3,gonbadT_max], s:statsGonbadT,
  xd:[611,1063], xr:XR, yd:[7.3,149], yr:[15,26], dt:1, t0:15, cx:842, ty:22.2, ly:[39,51.7,64.3], lg:[625,137.3,128,149], xt:[832,177]},
 {st:'لزوره', k:'T', ssp:'SSP8.5', d:[lazorehT_min,lazorehT_q1,lazorehT_med,lazorehT_q3,lazorehT_max], s:statsLazorehT,
  xd:[611,1063], xr:XR, yd:[200,340.7], yr:[15,26], dt:1, t0:15, cx:845, ty:213.3, ly:[233.3,246,259], lg:[620,327.7,132,150], xt:[832,368]},
 {st:'رامیان', k:'T', ssp:'SSP4.5', d:[ramianT_min,ramianT_q1,ramianT_med,ramianT_q3,ramianT_max], s:statsRamianT,
  xd:[610,1063], xr:XR, yd:[395,535.7], yr:[15,26], dt:1, t0:15, cx:842, ty:408.3, ly:[427.7,441.7,453.3], lg:[620,525,133,145], xt:[832,564]},
 {st:'چشمه خان', k:'T', ssp:'SSP4.5', d:[cheshmehT_min,cheshmehT_q1,cheshmehT_med,cheshmehT_q3,cheshmehT_max], s:statsCheshmehT,
  xd:[611,1063], xr:XR, yd:[586.7,729.7], yr:[5,25], dt:2, t0:5, cx:843, ty:600.3, ly:[619.3,632.3,645.7], lg:[620,716.7,132,150], xt:[832,758]},
 {st:'وشمگیر', k:'T', ssp:'SSP4.5', d:[voshmgirT_min,voshmgirT_q1,voshmgirT_med,voshmgirT_q3,voshmgirT_max], s:statsVoshmgirT,
  xd:[611,1063], xr:XR, yd:[783.2,924], yr:[15,28], dt:2, t0:15, cx:842.5, ty:797.5, ly:[815.7,829,842.7], lg:[620,913.3,132,150], xt:[832,953]},
 {st:'تمر', k:'T', ssp:'SSP4.5', d:[tamarT_min,tamarT_q1,tamarT_med,tamarT_q3,tamarT_max], s:statsTamarT,
  xd:[610,1063], xr:XR, yd:[978.3,1119], yr:[15,26], dt:1, t0:15, cx:845, ty:991.7, ly:[1010,1025,1037.3], lg:[622,1108.3,130,141], xt:[832,1148]}
];

const traces = [];
const layout = {
  width: W, height: H, margin: {l:0, r:0, t:0, b:0},
  paper_bgcolor: '#fff', plot_bgcolor: 'rgba(0,0,0,0)',
  showlegend: true, hovermode: false,
  font: {family: MIX, color: '#000'},
  annotations: []
};

panels.forEach((p, i) => {
  const n = i === 0 ? '' : String(i + 1);
  const xa = 'x' + n, ya = 'y' + n, lg = 'legend' + n;
  const right = p.k === 'T';
  const [mn, q1, med, q3, mx] = p.d;
  const base = {x: years, xaxis: xa, yaxis: ya, mode: 'lines', hoverinfo: 'skip', legend: lg};
  traces.push(Object.assign({}, base, {y: mn, line: {width: 0, color: LIGHT}, showlegend: false}));
  traces.push(Object.assign({}, base, {y: mx, line: {width: 0, color: LIGHT}, fill: 'tonexty', fillcolor: LIGHT, name: NAME_RANGE, legendwidth: p.lg[2]}));
  traces.push(Object.assign({}, base, {y: q1, line: {width: 0, color: DARK}, showlegend: false}));
  traces.push(Object.assign({}, base, {y: q3, line: {width: 0, color: DARK}, fill: 'tonexty', fillcolor: DARK, name: NAME_IQR, legendwidth: p.lg[3]}));
  traces.push(Object.assign({}, base, {y: med, line: {width: 1.8, color: '#000', dash: '4px,3px'}, name: NAME_MED}));

  const tickfont = {family: NUMF, size: 13.5, color: '#000', weight: 'bold'};
  layout['xaxis' + n] = {
    domain: [p.xd[0] / W, p.xd[1] / W], anchor: ya, range: p.xr,
    tickmode: 'array', tickvals: tickYears, ticktext: tickYears.map(String),
    ticks: 'outside', ticklen: 2.5, tickwidth: 1, tickcolor: '#222',
    showline: true, linecolor: '#222', linewidth: 1.3, mirror: true,
    showgrid: false, zeroline: false, tickfont: tickfont,
    fixedrange: true
  };
  layout['yaxis' + n] = {
    domain: [1 - p.yd[1] / H, 1 - p.yd[0] / H], anchor: xa, range: p.yr,
    tick0: p.t0, dtick: p.dt,
    ticks: 'outside', ticklen: 3, tickwidth: 1, tickcolor: '#222',
    showline: true, linecolor: '#222', linewidth: 1.3, mirror: !right,
    showgrid: false, zeroline: false, tickfont: tickfont, ticklabelstandoff: right ? 8 : 5,
    title: {text: right ? YT_T : YT_P, font: {family: MIX, size: 12, color: '#000', weight: 'bold'}, standoff: right ? 6 : 2},
    fixedrange: true
  };
  layout[lg] = {
    orientation: 'h', x: p.lg[0] / W, xanchor: 'left', y: 1 - p.lg[1] / H, yanchor: 'middle',
    bgcolor: 'rgba(0,0,0,0)', borderwidth: 0, itemwidth: 30, traceorder: 'normal',
    font: {family: AR, size: 9.5, color: '#000', weight: 'bold'}
  };

  // x-axis title "سال"
  layout.annotations.push({
    xref: 'paper', yref: 'paper', x: p.xt[0] / W, y: 1 - p.xt[1] / H, xanchor: 'center', yanchor: 'middle',
    text: XT, showarrow: false, borderpad: 0, font: {family: AR, size: 11.5, color: '#000', weight: 'bold'}
  });

  const kindWord = right ? 'دمای' : 'بارش';
  const unit = right ? UNIT_T : UNIT_P;
  const title = p.ssp + ' ' + kindWord + ' ایستگاه ' + p.st + '- سناریوی';
  layout.annotations.push({
    xref: 'paper', yref: 'paper', x: p.cx / W, y: 1 - p.ty / H, xanchor: 'center', yanchor: 'middle',
    text: title, showarrow: false, bgcolor: '#fff', bordercolor: '#111', borderwidth: 1.2, borderpad: 1,
    font: {family: MIX, size: 11.5, color: '#000', weight: 'bold'}
  });
  // LRM at the start fixes a left-to-right base direction for each mixed line
  const lines = [
    LRM + unit + LRM + ' ' + p.s[0] + '= ' + PH1,
    LRM + unit + LRM + ' ' + p.s[1] + '= ' + PH2,
    LRM + SEN + LRM + ' = ' + p.s[3] + NB.repeat(10) + 'Z ' + ZC + LRM + ' = ' + p.s[2]
  ];
  lines.forEach((t, j) => {
    layout.annotations.push({
      xref: 'paper', yref: 'paper', x: (p.cx + 2) / W, y: 1 - p.ly[j] / H, xanchor: 'center', yanchor: 'middle',
      text: t, showarrow: false,
      font: {family: MIX, size: 11.5, color: '#000', weight: 'bold'}
    });
  });
});

Plotly.newPlot('chart', traces, layout, {staticPlot: true, displayModeBar: false});
</script>
</body></html>
